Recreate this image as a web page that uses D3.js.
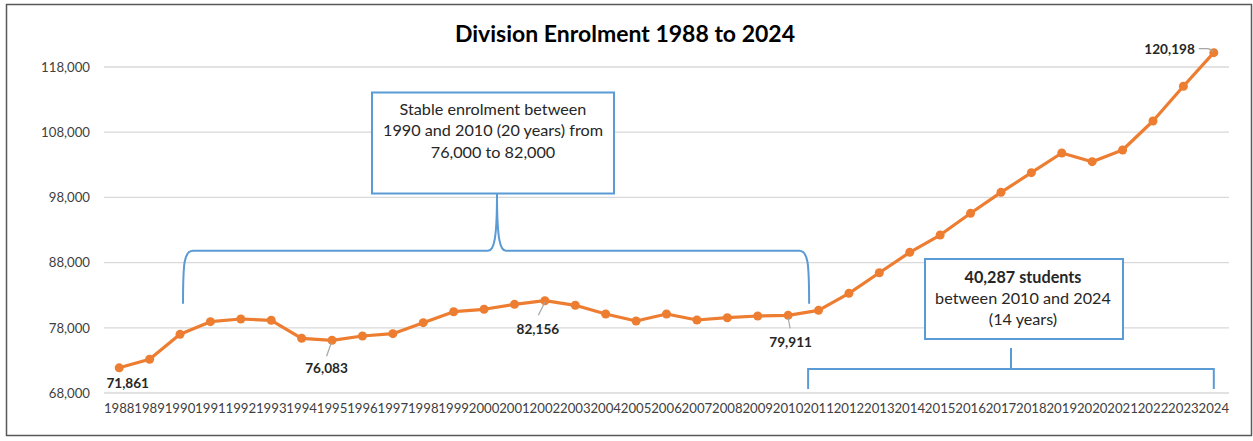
<!DOCTYPE html>
<html><head><meta charset="utf-8">
<script src="https://cdn.jsdelivr.net/npm/d3@7"></script>
<style>
html,body{margin:0;padding:0;background:#fff;}
svg{display:block;font-family:Lato,"Open Sans",sans-serif;}
</style></head>
<body><svg id="c" width="1253" height="441"></svg>
<script>
const years = [1988,1989,1990,1991,1992,1993,1994,1995,1996,1997,1998,1999,2000,2001,2002,2003,2004,2005,2006,2007,2008,2009,2010,2011,2012,2013,2014,2015,2016,2017,2018,2019,2020,2021,2022,2023,2024];
const enrolment = [71861,73170,77000,78940,79350,79150,76390,76083,76740,77100,78790,80470,80840,81600,82156,81450,80120,79040,80120,79200,79550,79810,79911,80680,83290,86450,89570,92230,95560,98780,101790,104810,103480,105270,109720,115040,120198];
const yTicks = [68000,78000,88000,98000,108000,118000];
const labelledYears = [1988,1995,2002,2010,2024];
const title = "Division Enrolment 1988 to 2024";
const note1 = ["Stable enrolment between","1990 and 2010 (20 years) from","76,000 to 82,000"];
const note2 = ["40,287 students","between  2010 and 2024","(14 years)"];

const svg = d3.select("#c");
const x = d3.scaleBand().domain(years).range([104,1229]).padding(0);
const xc = yr => x(yr) + x.bandwidth()/2;
const y = d3.scaleLinear().domain([68000,118000]).range([393,67]);

// frame
svg.append("rect").attr("x",6.5).attr("y",4.5).attr("width",1245).attr("height",431)
  .attr("fill","#fff").attr("stroke","#595959").attr("stroke-width",1.5);

// title
svg.append("text").attr("x",625).attr("y",33).attr("text-anchor","middle")
  .attr("dominant-baseline","central").attr("font-weight","bold").attr("font-size",23)
  .attr("fill","#000").text(title);

// grid
svg.append("g").selectAll("line").data(yTicks).join("line")
  .attr("x1",104).attr("x2",1229).attr("y1",d=>y(d)).attr("y2",d=>y(d))
  .attr("stroke","#d9d9d9").attr("stroke-width",1.3);

// y axis labels
const yAxis = d3.axisLeft(y).tickValues(yTicks).tickFormat(d3.format(",")).tickSize(0).tickPadding(0);
const gy = svg.append("g").attr("transform","translate(90,0)").call(yAxis);
gy.select(".domain").remove();
gy.selectAll("text").attr("font-family","Lato").attr("font-size",13.2).attr("fill","#404040");

// x axis labels
const xAxis = d3.axisBottom(x).tickSize(0).tickPadding(0);
const gx = svg.append("g").attr("transform","translate(0,404)").call(xAxis);
gx.select(".domain").remove();
gx.selectAll("text").attr("font-family","Lato").attr("font-size",13.2).attr("fill","#404040");

// bracket 1 (curly)
const bL = xc(1990)+3, bR = xc(2010)+21, bTop = y(89800), bBot = y(81700), tipX = 497, tipY = 194;
const blue = "#5b9bd5";
svg.append("path").attr("fill","none").attr("stroke",blue).attr("stroke-width",2)
  .attr("d",`M${bL},${bBot} C${bL},${bTop+12} ${bL+1},${bTop} ${bL+10},${bTop} L${tipX-9},${bTop} C${tipX-3},${bTop} ${tipX},${bTop-12} ${tipX},${tipY} C${tipX},${bTop-12} ${tipX+3},${bTop} ${tipX+9},${bTop} L${bR-10},${bTop} C${bR-1},${bTop} ${bR},${bTop+12} ${bR},${bBot}`);

// box 1
svg.append("rect").attr("x",372).attr("y",92.5).attr("width",242).attr("height",101)
  .attr("fill","#fff").attr("stroke",blue).attr("stroke-width",2);
svg.append("g").selectAll("text").data(note1).join("text")
  .attr("x",493).attr("y",(d,i)=>108.5+i*21.4).attr("text-anchor","middle").attr("dominant-baseline","central")
  .attr("font-size",16.2).attr("fill","#262626").text(d=>d);

// bracket 2 (square)
const b2L = xc(2010)+20, b2R = xc(2024), b2Top = 369, b2Bot = 389;
svg.append("path").attr("fill","none").attr("stroke",blue).attr("stroke-width",2)
  .attr("d",`M${b2L},${b2Bot} L${b2L},${b2Top} L${b2R},${b2Top} L${b2R},${b2Bot} M1011,${b2Top} L1011,348`);

// box 2
svg.append("rect").attr("x",925).attr("y",259).attr("width",198).attr("height",80)
  .attr("fill","#fff").attr("stroke",blue).attr("stroke-width",2);
svg.append("g").selectAll("text").data(note2).join("text")
  .attr("x",1023).attr("y",(d,i)=>276+i*21.3).attr("text-anchor","middle").attr("dominant-baseline","central")
  .attr("font-size",16.2).attr("font-weight",(d,i)=>i===0?"bold":"normal").attr("fill","#262626").text(d=>d);

// line
const data = years.map((yr,i)=>({yr, v:enrolment[i]}));
svg.append("path").datum(data).attr("fill","none").attr("stroke","#ed7d31").attr("stroke-width",3.2)
  .attr("stroke-linejoin","round")
  .attr("d", d3.line().x(d=>xc(d.yr)).y(d=>y(d.v)));
svg.append("g").selectAll("circle").data(data).join("circle")
  .attr("cx",d=>xc(d.yr)).attr("cy",d=>y(d.v)).attr("r",4.5).attr("fill","#ed7d31");

// data labels
const fmt = d3.format(",");
const lab = {
  1988:{dx:8.5, dy:15, lead:null},
  1995:{dx:-5.5, dy:28, lead:[[-5.5,16],[-0.5,2]]},
  2002:{dx:-7, dy:28, lead:[[-6.5,14.5],[0,1.5]]},
  2010:{dx:2.5, dy:26.5, lead:[[2,13],[0,2.5]]},
  2024:{dx:-19, dy:-4, anchor:"end", lead:null}
};
const gl = svg.append("g");
labelledYears.forEach(yr=>{
  const i = years.indexOf(yr), px = xc(yr), py = y(enrolment[i]), L = lab[yr];
  if (L.lead) gl.append("line").attr("x1",px+L.lead[0][0]).attr("y1",py+L.lead[0][1])
     .attr("x2",px+L.lead[1][0]).attr("y2",py+L.lead[1][1]).attr("stroke","#a6a6a6").attr("stroke-width",1.2);
  gl.append("text").attr("x",px+L.dx).attr("y",py+L.dy).attr("text-anchor",L.anchor||"middle")
    .attr("dominant-baseline","central").attr("font-weight","bold").attr("font-size",13.6).attr("fill","#262626")
    .text(fmt(enrolment[i]));
});
// leader for 2024
{ const px = xc(2024), py = y(120198);
  gl.append("path").attr("fill","none").attr("stroke","#a6a6a6").attr("stroke-width",1.2)
    .attr("d",`M${px-15},${py-4} L${px-7},${py-4} Q${px-3},${py-4} ${px-1},${py-1}`); }
</script></body></html>
